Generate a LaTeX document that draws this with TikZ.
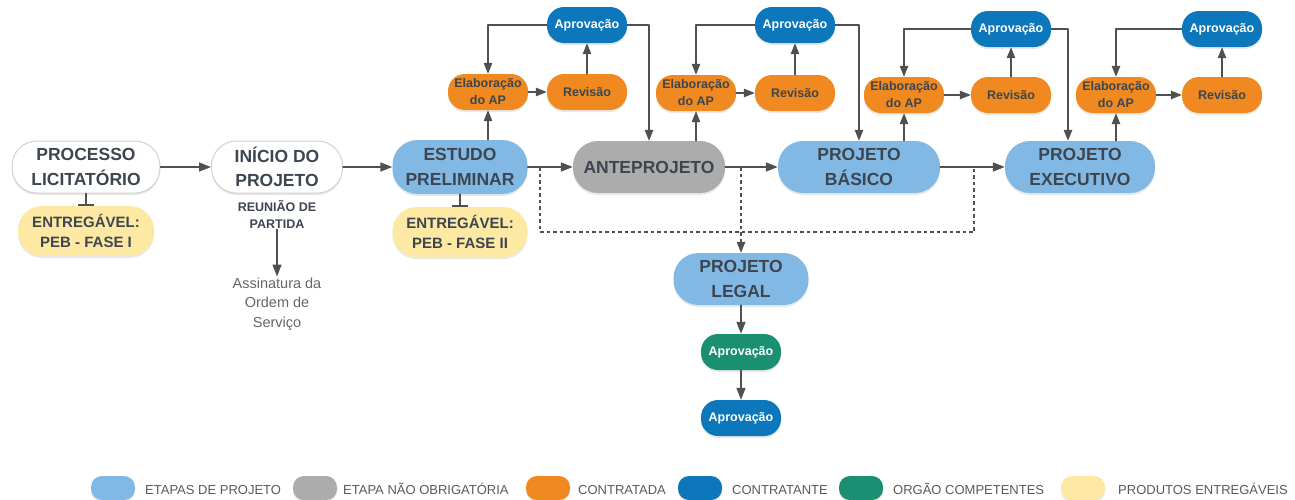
\documentclass[tikz,border=0pt]{standalone}
\usepackage{fontspec}
\setmainfont{Liberation Sans}
\usetikzlibrary{arrows.meta, positioning, shadows}

\definecolor{etapa}{HTML}{82B9E4}
\definecolor{naoobrig}{HTML}{ACACAC}
\definecolor{contratada}{HTML}{F08A20}
\definecolor{contratante}{HTML}{0C77BB}
\definecolor{orgao}{HTML}{1A8F72}
\definecolor{entregavel}{HTML}{FDE9A3}
\definecolor{texto}{HTML}{3D4650}
\definecolor{seta}{HTML}{505050}

\begin{document}
\begin{tikzpicture}[x=1pt, y=-1pt, line cap=round, line join=round,
  sombra/.style={drop shadow={shadow xshift=0pt, shadow yshift=-2pt, opacity=0.18}},
  fase/.style={sombra, rounded corners=25pt, minimum height=52pt, inner sep=0pt,
    align=center, text=texto, font=\fontsize{17.5}{24.5}\selectfont\bfseries},
  entrega/.style={fase, fill=entregavel, minimum height=50pt, rounded corners=24pt,
    font=\fontsize{15}{20}\selectfont\bfseries},
  passo/.style={sombra, rounded corners=17pt, minimum width=80pt, minimum height=36pt,
    inner sep=0pt, align=center, font=\fontsize{12.5}{17}\selectfont\bfseries},
  elabora/.style={passo, fill=contratada, text=texto},
  aprova/.style={passo, fill=contratante, text=white},
  fluxo/.style={draw=seta, line width=1.6pt, -{Triangle[length=12pt,width=9pt]}},
  laco/.style={draw=seta, line width=1.2pt, -{Triangle[length=11pt,width=8.5pt]}},
  tbar/.style={draw=seta, line width=1.4pt, -{Bar[width=16pt,line width=1.6pt]}},
  tracejado/.style={draw=seta, line width=1.3pt, dash pattern=on 3.5pt off 3pt, line cap=butt},
  legsw/.style={sombra, rounded corners=11pt, minimum width=44pt, minimum height=24pt, inner sep=0pt},
  legtx/.style={anchor=base west, inner sep=0pt, text=black!65, font=\fontsize{13}{15}\selectfont}
]
\useasboundingbox (0,0) rectangle (1295,499);

% main stages
\node[fase, fill=white, draw=black!18, line width=1pt, minimum width=148pt] (proc) at (86,167) {PROCESSO\\LICITATÓRIO};
\node[fase, fill=white, draw=black!18, line width=1pt, minimum width=131pt] (inicio) at (277,167) {INÍCIO DO\\PROJETO};
\node[fase, fill=etapa, minimum width=135pt, minimum height=54pt] (estudo) at (460,167) {ESTUDO\\PRELIMINAR};
\node[fase, fill=naoobrig, minimum width=152pt] (ante) at (649,167) {ANTEPROJETO};
\node[fase, fill=etapa, minimum width=162pt] (basico) at (859,167) {PROJETO\\BÁSICO};
\node[fase, fill=etapa, minimum width=150pt] (exec) at (1080,167) {PROJETO\\EXECUTIVO};
\node[fase, fill=etapa, minimum width=135pt] (legal) at (741,279) {PROJETO\\LEGAL};

% deliverables
\node[entrega, minimum width=136pt] (ent1) at (86,231) {ENTREGÁVEL:\\PEB - FASE I};
\node[entrega, minimum width=135pt] (ent2) at (460,232) {ENTREGÁVEL:\\PEB - FASE II};

% kick-off meeting
\node[align=center, text=texto, inner sep=1pt, font=\fontsize{12.5}{17}\selectfont\bfseries] (reuniao) at (277,214) {REUNIÃO DE\\PARTIDA};
\node[align=center, text=black!60, inner sep=1pt, font=\fontsize{14.5}{19.5}\selectfont] (assin) at (277,304) {Assinatura da\\Ordem de\\Serviço};

% approval loops
\node[elabora] (elab1) at (488,92) {Elaboração\\do AP};
\node[elabora] (rev1) at (587,92) {Revisão};
\node[aprova] (aprov1) at (587,25) {Aprovação};
\node[elabora] (elab2) at (696,93) {Elaboração\\do AP};
\node[elabora] (rev2) at (795,93) {Revisão};
\node[aprova] (aprov2) at (795,25) {Aprovação};
\node[elabora] (elab3) at (904,95) {Elaboração\\do AP};
\node[elabora] (rev3) at (1011,95) {Revisão};
\node[aprova] (aprov3) at (1011,29) {Aprovação};
\node[elabora] (elab4) at (1116,95) {Elaboração\\do AP};
\node[elabora] (rev4) at (1222,95) {Revisão};
\node[aprova] (aprov4) at (1222,29) {Aprovação};

% legal approvals
\node[passo, fill=orgao, text=white] (aprovG) at (741,352) {Aprovação};
\node[aprova] (aprovB) at (741,418) {Aprovação};

% main flow
\draw[fluxo] (proc) -- (inicio);
\draw[fluxo] (inicio) -- (estudo);
\draw[fluxo] (estudo) -- (ante);
\draw[fluxo] (ante) -- (basico);
\draw[fluxo] (basico) -- (exec);
\draw[tbar] (proc) -- (ent1);
\draw[tbar] (estudo) -- (ent2);
\draw[fluxo, line width=1.4pt] (reuniao) -- (assin);

\foreach \i/\m in {1/estudo, 2/ante, 3/basico, 4/exec} {
  \draw[laco] (\m.north -| elab\i) -- (elab\i);
  \draw[laco] (elab\i) -- (rev\i);
  \draw[laco] (rev\i) -- (aprov\i);
  \draw[laco] (aprov\i.west) -| (elab\i.north);
}
\draw[laco] (aprov1.east) -| (ante.north);
\draw[laco] (aprov2.east) -| (basico.north);
\draw[laco] (aprov3.east) -| ([xshift=-12pt]exec.north);

% optional legal branch (dashed)
\coordinate (d1) at (540,167);
\coordinate (d2) at (741,167);
\coordinate (d3) at (974,167);
\coordinate (dl) at (540,232);
\coordinate (dr) at (974,232);
\draw[tracejado] (d1) -- (dl) -- (dr) -- (d3);
\draw[tracejado, -{Triangle[length=11pt,width=8.5pt]}] (d2) -- (legal);
\draw[fluxo] (legal) -- (aprovG);
\draw[fluxo] (aprovG) -- (aprovB);

% legend
\foreach \c/\x/\t/\n [count=\k] in {etapa/113/ETAPAS DE PROJETO/145,
    naoobrig/315/ETAPA NÃO OBRIGATÓRIA/343,
    contratada/548/CONTRATADA/578,
    contratante/700/CONTRATANTE/732,
    orgao/861/ORGÃO COMPETENTES/893,
    entregavel/1083/PRODUTOS ENTREGÁVEIS/1118} {
  \node[legsw, fill=\c] (sw\k) at (\x,488) {};
  \node[legtx] (lt\k) at (\n,494) {\t};
}

\end{tikzpicture}
\end{document}
